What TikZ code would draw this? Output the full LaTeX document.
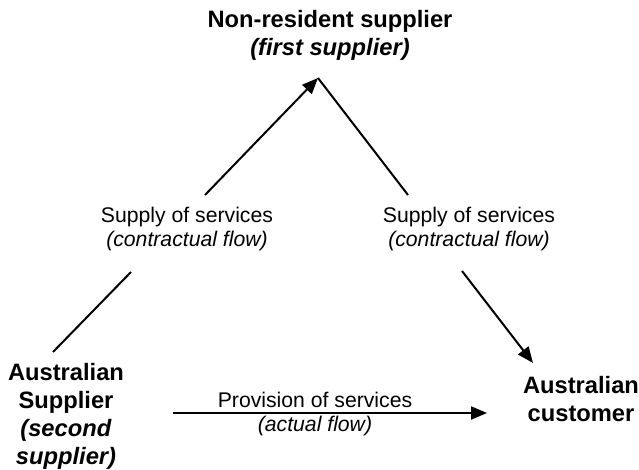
\documentclass[tikz,border=0pt]{standalone}
\usepackage{fontspec}
\setmainfont{Liberation Sans}
\usetikzlibrary{arrows.meta}
\begin{document}
\begin{tikzpicture}[x=1pt,y=-1pt,
  party/.style={align=center,inner sep=0pt,font=\fontsize{23.7}{28}\selectfont\bfseries},
  flowlabel/.style={align=center,inner sep=0pt,font=\fontsize{21.2}{23.2}\selectfont},
  conn/.style={line width=2pt,draw=black},
  tipconn/.style={conn,-{Triangle[length=16pt,width=13pt]}}]
\useasboundingbox (0,0) rectangle (639,470);
% parties
\node[party] (ns) at (330,35) {Non-resident supplier\\\textit{(first supplier)}};
\node[party] (as) at (66,416) {Australian\\Supplier\\\textit{(second}\\\textit{supplier)}};
\node[party] (ac) at (581,399) {Australian\\customer};
% flow labels
\node[flowlabel] (ll) at (187,229) {Supply of services\\\textit{(contractual flow)}};
\node[flowlabel] (rl) at (469,229) {Supply of services\\\textit{(contractual flow)}};
\node[flowlabel] (bl) at (315,414) {Provision of services\\\textit{(actual flow)}};
% connector end points
\coordinate (apex) at (318,78);
\coordinate (l1) at (53,352);
\coordinate (l2) at (131,272);
\coordinate (l3) at (205,195);
\coordinate (r1) at (408,195);
\coordinate (r2) at (462,271);
\coordinate (r3) at (533,363);
\coordinate (b1) at (173,413);
\coordinate (b2) at (487,413);
% connectors
\draw[conn] (l1) -- (l2);
\draw[tipconn] (l3) -- (apex);
\draw[conn] (apex) -- (r1);
\draw[tipconn] (r2) -- (r3);
\draw[tipconn] (b1) -- (b2);
\end{tikzpicture}
\end{document}
